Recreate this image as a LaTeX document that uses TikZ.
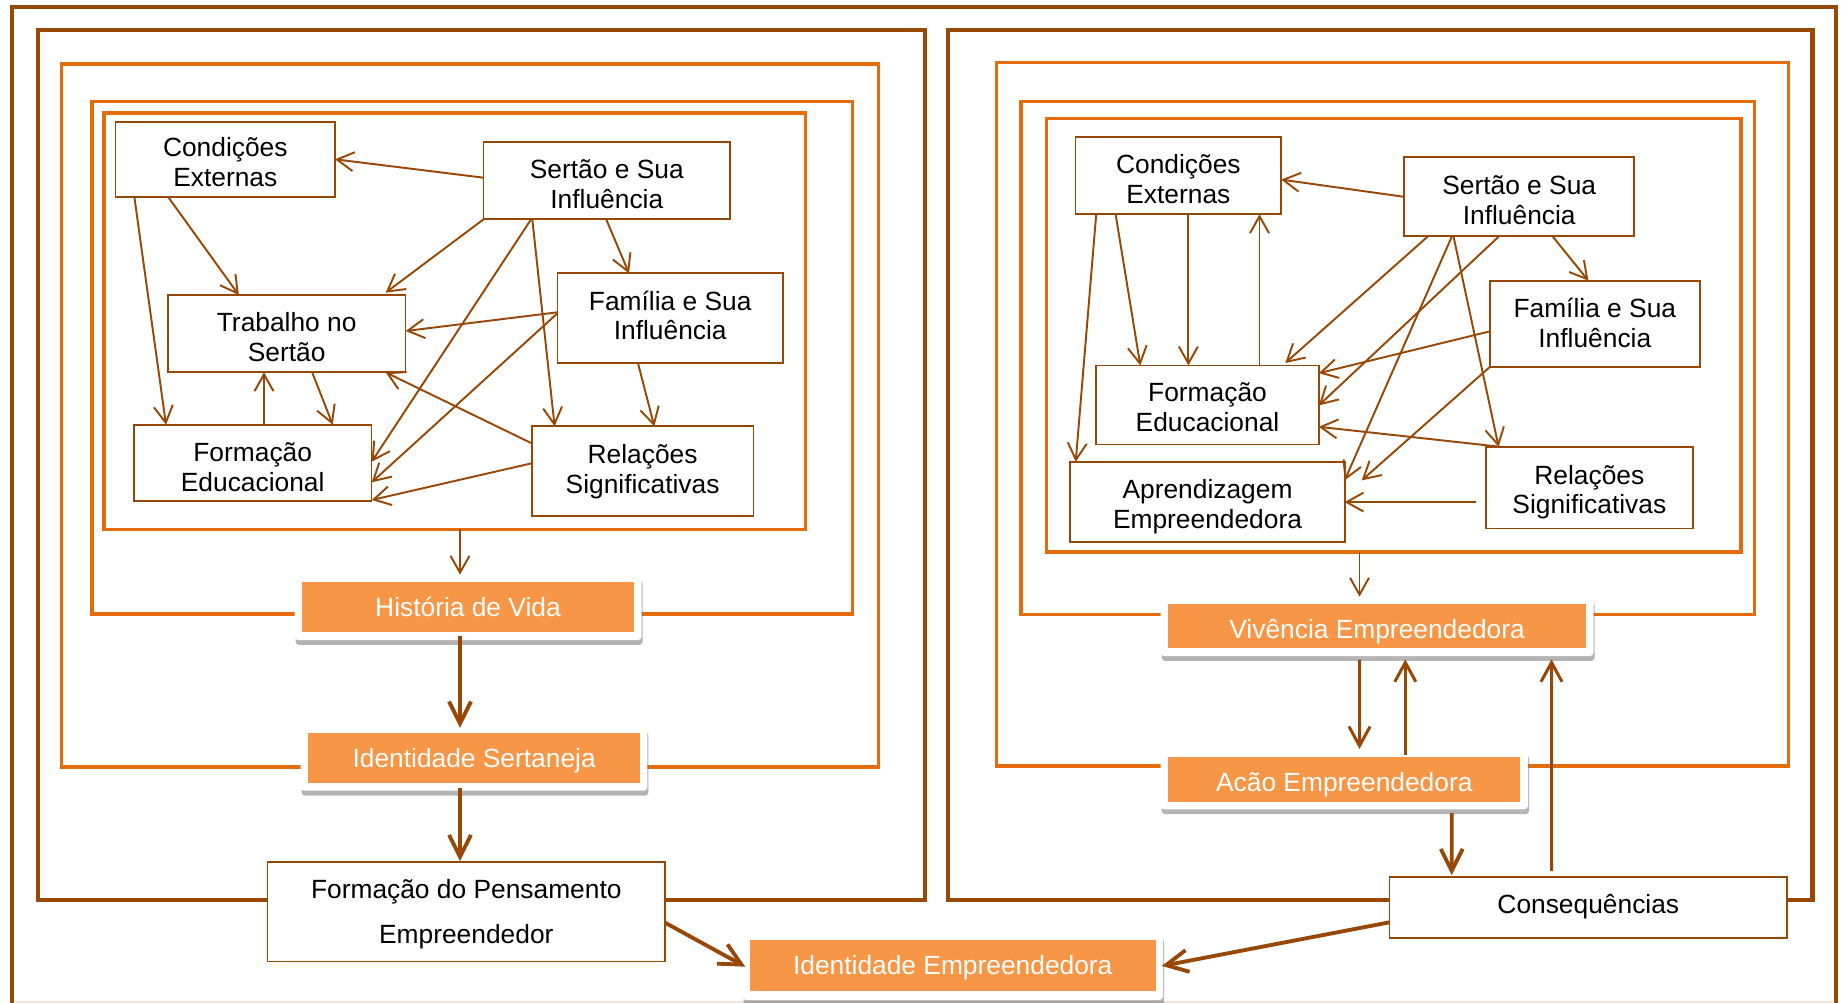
\documentclass[tikz,border=0pt]{standalone}
\usepackage{fontspec}
\setmainfont{Liberation Sans}
\usetikzlibrary{arrows.meta,calc,shadows}
\definecolor{brn}{RGB}{152,72,6}
\definecolor{org}{RGB}{228,108,10}
\definecolor{ofill}{RGB}{247,150,70}
\definecolor{faint}{RGB}{240,230,220}
\newcommand\fsn{\fontsize{15pt}{17pt}\selectfont}
\newcommand\fsw{\fontsize{15pt}{25.5pt}\selectfont}
\tikzset{
  frameD/.style={draw=brn,line width=2.4pt},
  frameO/.style={draw=org,line width=1.9pt},
  wd/.style={minimum width=#1*0.02cm},
  ht/.style={minimum height=#1*0.02cm},
  th/.style={text height=#1,text depth=0pt},
  wbox/.style={draw=brn,line width=1pt,fill=white,inner sep=0pt,align=center,font=\fsn},
  obox/.style={fill=white,rounded corners=2pt,inner sep=0pt,
    drop shadow={shadow xshift=0.6pt,shadow yshift=-2.8pt,opacity=0.42,fill=black!70}},
  ofl/.style={fill=ofill,text=white,inner sep=0pt,font=\fsn,text height=10.7pt,text depth=0pt},
  arr/.style={draw=brn,line width=1.1pt,-{Straight Barb[length=9.6pt,width=10.8pt]}},
  arrM/.style={draw=brn,line width=1.7pt,-{Straight Barb[length=11pt,width=12pt]}},
  arrT/.style={draw=brn,line width=2.2pt,-{Straight Barb[length=12.5pt,width=12.5pt]}}
}
\begin{document}
\begin{tikzpicture}[x=0.02cm,y=-0.02cm]
\useasboundingbox (0,0) rectangle (1841,1003);

% frames
\draw[faint,line width=0.8pt] (15,1001.8) -- (1834,1001.8);
\draw[frameD] (12,1003) -- (12,7) -- (1836,7) -- (1836,1003);
\draw[frameD] (38,30) rectangle (925,900);
\draw[frameD] (947.6,30) rectangle (1812.5,900);
\draw[frameO] (61.6,64) rectangle (878.5,767);
\draw[frameO] (92,101.5) rectangle (852.7,614);
\draw[frameO] (104,113) rectangle (805.7,529.3);
\draw[frameO] (996.4,62.7) rectangle (1788.5,766);
\draw[frameO] (1021,101.5) rectangle (1754.7,614.3);
\draw[frameO] (1046.3,118.3) rectangle (1741,552);

% left inner boxes
\node[wbox,wd=219.4,ht=75.6,th=30.8pt] (condL) at (225.3,159.5) {Condições\\Externas};
\node[wbox,wd=246.4,ht=77.3,th=31.2pt] (sertL) at (606.8,180.7) {Sertão e Sua\\Influência};
\node[wbox,wd=225.4,ht=90,th=24.6pt] (famL) at (670.2,318.3) {Família e Sua\\Influência};
\node[wbox,wd=237.7,ht=77.3,th=31.8pt] (trabL) at (286.7,333.7) {Trabalho no\\Sertão};
\node[wbox,wd=237.7,ht=76.3,th=32.8pt] (formL) at (252.7,462.8) {Formação\\Educacional};
\node[wbox,wd=221.8,ht=89.7,th=25pt] (relL) at (642.6,471.2) {Relações\\Significativas};

% right inner boxes
\node[wbox,wd=205.6,ht=77.5,th=31.4pt] (condR) at (1178.4,175.5) {Condições\\Externas};
\node[wbox,wd=230.3,ht=78.7,th=32pt] (sertR) at (1519.2,196.3) {Sertão e Sua\\Influência};
\node[wbox,wd=210.3,ht=86.4,th=27.2pt] (famR) at (1594.8,323.9) {Família e Sua\\Influência};
\node[wbox,wd=222.6,ht=79.2,th=30.4pt] (formR) at (1207.5,405) {Formação\\Educacional};
\node[wbox,wd=274.3,ht=80,th=30pt] (aprR) at (1207.5,501.8) {Aprendizagem\\Empreendedora};
\node[wbox,wd=207.4,ht=81.8,th=29.8pt] (relR) at (1589.3,487.7) {Relações\\Significativas};

% bottom white boxes
\node[wbox,wd=397.5,ht=99.5,font=\fsw,th=35.7pt] (formP) at (466.3,911.8) {Formação do Pensamento\\Empreendedor};
\node[wbox,wd=397.5,ht=60.7,text height=11pt,text depth=4.6pt] (cons) at (1588.3,907.7) {Consequências};

% orange boxes
\node[obox,wd=347,ht=65] (histO) at (468,607.5) {};
\node[ofl,wd=332,ht=50] (hist) at (468,607) {História de Vida};
\node[obox,wd=346.8,ht=64] (idSO) at (473.9,758.7) {};
\node[ofl,wd=332.3,ht=50] (idS) at (474.15,758.3) {Identidade Sertaneja};
\node[obox,wd=432.9,ht=59] (vivO) at (1377.05,626.5) {};
\node[ofl,wd=417.8,ht=44,text height=14.1pt] (viv) at (1377.1,626.3) {Vivência Empreendedora};
\node[obox,wd=367.4,ht=59.3] (acaoO) at (1344.3,779.65) {};
\node[ofl,wd=352.2,ht=44.4,text height=14.1pt] (acao) at (1344.3,779.5) {Acão Empreendedora};
\node[obox,wd=420.5,ht=66.7] (idEO) at (952.75,966.65) {};
\node[ofl,wd=405.5,ht=51] (idE) at (952.75,965.5) {Identidade Empreendedora};

% left arrows
\draw[arr] ($(sertL)+(-123.2,-3)$) -- ($(condL)+(109.7,-0.2)$);
\draw[arr] ($(condL)+(-56.9,37.8)$) -- ($(trabL)+(-47.9,-38.7)$);
\draw[arr] ($(condL)+(-90.9,37.8)$) -- ($(formL)+(-86.7,-38.1)$);
\draw[arr] ($(sertL)+(-123.2,38.6)$) -- ($(trabL)+(98.9,-41)$);
\draw[arr] ($(sertL)+(-0.6,38.6)$) -- ($(famL)+(-41.2,-45)$);
\draw[arr] ($(sertL)+(-75.7,38.6)$) -- ($(formL)+(119,-1.1)$);
\draw[arr] ($(sertL)+(-74.5,38.6)$) -- ($(relL)+(-88,-44.9)$);
\draw[arr] ($(famL)+(-112.7,-6)$) -- ($(trabL)+(119,-2.7)$);
\draw[arr] ($(famL)+(-112.7,-5)$) -- ($(formL)+(119,19.5)$);
\draw[arr] ($(relL)+(-110.9,-27.9)$) -- ($(trabL)+(98.9,38.65)$);
\draw[arr] ($(relL)+(-110.9,-7.9)$) -- ($(formL)+(119,37.2)$);
\draw[arr] ($(trabL)+(25.5,38.65)$) -- ($(formL)+(80,-38.1)$);
\draw[arr] ($(formL)+(11.3,-38.1)$) -- ($(trabL)+(-22.7,38.65)$);
\draw[arr] ($(famL)+(-32.2,45)$) -- ($(relL)+(11.7,-44.9)$);

% right arrows
\draw[arr] ($(sertR)+(-115.2,0.5)$) -- ($(condR)+(102.8,4.1)$);
\draw[arr] ($(condR)+(-82.2,38.75)$) -- ($(aprR)+(-131.8,-40)$);
\draw[arr] ($(condR)+(-62.8,38.75)$) -- ($(formR)+(-67.2,-39.6)$);
\draw[arr] ($(condR)+(10,38.75)$) -- ($(formR)+(-19.1,-39.6)$);
\draw[arr] ($(formR)+(52,-39.6)$) -- ($(condR)+(81.1,38.75)$);
\draw[arr] ($(sertR)+(-90.5,39.35)$) -- ($(formR)+(77.8,-42)$);
\draw[arr] ($(sertR)+(-19.5,39.35)$) -- ($(formR)+(111.3,0.4)$);
\draw[arr] ($(sertR)+(-67,39.35)$) -- ($(aprR)+(137.15,-21.4)$);
\draw[arr] ($(sertR)+(-65.9,39.35)$) -- ($(relR)+(-90.7,-40.9)$);
\draw[arr] ($(sertR)+(32.8,39.35)$) -- ($(famR)+(-6.4,-43.2)$);
\draw[arr] ($(famR)+(-105.15,7.5)$) -- ($(formR)+(111.3,-31.8)$);
\draw[arr] ($(relR)+(-89,-40.9)$) -- ($(formR)+(111.3,21.8)$);
\draw[arr] ($(famR)+(-105.15,43.2)$) -- ($(aprR)+(154.2,-21.4)$);
\draw[arr] ($(relR)+(-113.7,14.4)$) -- ($(aprR)+(137.15,0.3)$);

% flow arrows
\coordinate (L5b) at (460,529.3);
\draw[arr] (L5b) -- (L5b |- histO.north);
\draw[arrT] ($(histO.south)+(-8,-4)$) -- ($(idSO.north)+(-13.9,1.5)$);
\draw[arrT] ($(idSO.south)+(-13.9,-3.4)$) -- ($(formP.north)+(-6.3,0)$);
\draw[arrT] ($(formP)+(198.75,10.9)$) -- ($(idEO)+(-207.5,0)$);
\draw[arrT] ($(cons)+(-198.75,14.6)$) -- ($(idEO)+(209,-0.7)$);

\coordinate (R5b) at (1359.5,552);
\draw[arr] (R5b) -- (R5b |- vivO.north);
\draw[arrM] ($(vivO.south)+(-17.55,3.3)$) -- ($(acaoO.north)+(15.2,-0.7)$);
\draw[arrM] ($(acaoO.north)+(61,5)$) -- ($(vivO.south)+(28.25,3)$);
\draw[arrM] ($(cons.north)+(-36.8,-5.6)$) -- ($(vivO.south)+(174.45,3)$);
\draw[arrT] ($(acaoO.south)+(107.4,3.4)$) -- ($(cons.north)+(-136.6,-1.3)$);
\end{tikzpicture}
\end{document}
